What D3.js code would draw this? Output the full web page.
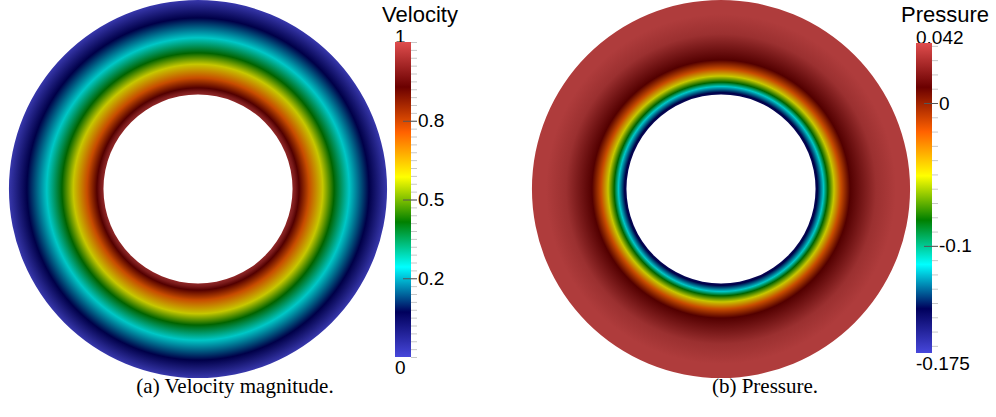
<!DOCTYPE html>
<html>
<head>
<meta charset="utf-8">
<script src="https://cdn.jsdelivr.net/npm/d3@7"></script>
<style>
  body { margin: 0; background: #fff; }
  svg { display: block; }
  .cb text { font-family: "Liberation Sans", Arial, sans-serif; fill: #000; }
  .caption { font-family: "Liberation Serif", "Times New Roman", serif; font-size: 21px; fill: #000; }
</style>
</head>
<body>
<svg id="chart" width="996" height="417"></svg>
<script>
// radial profiles (radius in units of inner radius, 1 = inner wall, 2 = outer wall)
const velRadius = [1.0, 1.03, 1.07, 1.175, 1.32, 1.44, 1.6, 1.81, 2.0];
const velValue  = [0.95, 0.92, 0.857, 0.714, 0.571, 0.429, 0.286, 0.143, 0.0];

const presRadius = [1.0, 1.02, 1.085, 1.13, 1.195, 1.27, 1.365, 1.64, 1.85, 2.0];
const presValue  = [-0.149, -0.144, -0.113, -0.082, -0.051, -0.020, 0.011, 0.0355, 0.042, 0.042];

// colour bars
const velRange = [0, 1];
const velRangeLabels = ["0", "1"];
const velTicks = [0.25, 0.5, 0.75];
const velTickLabels = ["0.2", "0.5", "0.8"];
const velMinorStep = 0.025;

const presRange = [-0.175, 0.042];
const presRangeLabels = ["-0.175", "0.042"];
const presTicks = [0, -0.1];
const presTickLabels = ["0", "-0.1"];
const presMinorStep = 0.01;

const captions = ["(a) Velocity magnitude.", "(b) Pressure."];
const titles = ["Velocity", "Pressure"];

// ParaView "Rainbow Desaturated"
const rainbow = ["#4747db", "#00005c", "#00ffff", "#008000", "#ffff00", "#ff6100", "#6b0000", "#e04d4d"];
const shade = 0.78; // surface lighting

const svg = d3.select("#chart");
const defs = svg.append("defs");

function cmap(range) {
  let step = (range[1] - range[0]) / (rainbow.length - 1);
  return d3.scaleLinear()
    .domain(rainbow.map((c, i) => range[0] + i * step))
    .range(rainbow)
    .interpolate(d3.interpolateRgb)
    .clamp(true);
}

function dim(c) {
  let k = d3.rgb(c);
  return d3.rgb(k.r * shade, k.g * shade, k.b * shade).formatHex();
}

function annulus(id, cx, cy, rIn, rOut, radius, values, range) {
  let color = cmap(range);
  let rScale = d3.scaleLinear().domain([1, 2]).range([rIn, rOut]);

  // gradient lives in the path's own (translated) space
  let grad = defs.append("radialGradient")
    .attr("id", id)
    .attr("gradientUnits", "userSpaceOnUse")
    .attr("cx", 0).attr("cy", 0).attr("r", rOut);
  grad.selectAll("stop")
    .data(radius)
    .enter().append("stop")
    .attr("offset", d => rScale(d) / rOut)
    .attr("stop-color", (d, i) => dim(color(values[i])));

  let arc = d3.arc()
    .innerRadius(rIn)
    .outerRadius(rOut)
    .startAngle(0)
    .endAngle(2 * Math.PI);

  svg.append("path")
    .attr("transform", "translate(" + cx + "," + cy + ")")
    .attr("d", arc())
    .attr("fill", "url(#" + id + ")");
}

function colorbar(id, x, top, bottom, range, rangeLabels, ticks, tickLabels, minorStep, title, titleX) {
  let w = 16;
  let y = d3.scaleLinear().domain(range).range([bottom, top]);
  let color = cmap(range);
  let g = svg.append("g").attr("class", "cb");

  g.append("text")
    .attr("x", titleX).attr("y", 22)
    .attr("text-anchor", "middle")
    .style("font-size", "22px")
    .text(title);

  // end labels
  g.append("text")
    .attr("x", x).attr("y", top + 1)
    .style("font-size", "19px")
    .text(rangeLabels[1]);
  g.append("text")
    .attr("x", x).attr("y", bottom + 17)
    .style("font-size", "19px")
    .text(rangeLabels[0]);

  let lg = defs.append("linearGradient")
    .attr("id", id)
    .attr("gradientUnits", "userSpaceOnUse")
    .attr("x1", 0).attr("x2", 0)
    .attr("y1", bottom).attr("y2", top);
  lg.selectAll("stop")
    .data(color.domain())
    .enter().append("stop")
    .attr("offset", d => (d - range[0]) / (range[1] - range[0]))
    .attr("stop-color", d => color(d));

  g.append("rect")
    .attr("x", x).attr("y", top)
    .attr("width", w).attr("height", bottom - top)
    .attr("fill", "url(#" + id + ")");

  // minor ticks
  let first = Math.ceil(range[0] / minorStep - 1e-9) * minorStep;
  let minor = d3.range(first, range[1] + 1e-9, minorStep);
  let minorAxis = d3.axisRight(y)
    .tickValues(minor)
    .tickSize(6)
    .tickFormat("");
  let ma = g.append("g")
    .attr("transform", "translate(" + (x + w) + ",0)")
    .call(minorAxis);
  ma.select(".domain").remove();
  ma.selectAll("line").attr("stroke", "#c8c8c8");

  // major ticks
  let majorAxis = d3.axisRight(y)
    .tickValues(ticks)
    .tickSize(14)
    .tickPadding(1)
    .tickFormat((d, i) => tickLabels[i]);
  let mj = g.append("g")
    .attr("transform", "translate(" + (x + w - 8) + ",0)")
    .call(majorAxis);
  mj.select(".domain").remove();
  mj.selectAll("line").attr("stroke", "#555");
  mj.selectAll("text")
    .style("font-size", "19px")
    .style("font-family", "'Liberation Sans', Arial, sans-serif")
    .attr("fill", "#000");
}

annulus("velGrad", 198, 189, 94.5, 189, velRadius, velValue, velRange);
annulus("presGrad", 721, 189, 94.5, 189, presRadius, presValue, presRange);

colorbar("velBar", 395, 42, 357, velRange, velRangeLabels, velTicks, velTickLabels, velMinorStep, titles[0], 420);
colorbar("presBar", 916, 43, 353, presRange, presRangeLabels, presTicks, presTickLabels, presMinorStep, titles[1], 945);

svg.selectAll(".caption")
  .data(captions)
  .enter().append("text")
  .attr("class", "caption")
  .attr("x", (d, i) => [235, 765][i])
  .attr("y", 393)
  .attr("text-anchor", "middle")
  .text(d => d);
</script>
</body>
</html>
